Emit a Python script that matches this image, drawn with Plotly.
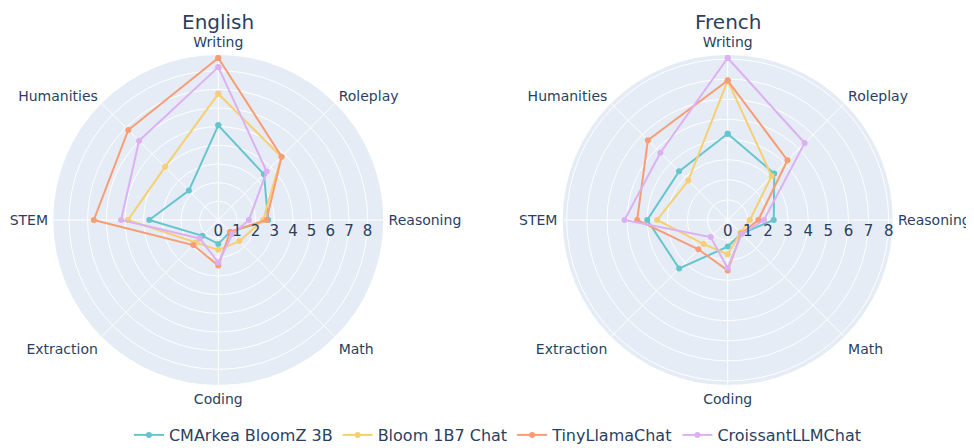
import plotly.graph_objects as go

categories = ["Writing", "Roleplay", "Reasoning", "Math", "Coding", "Extraction", "STEM", "Humanities"]
models = ["CMArkea BloomZ 3B", "Bloom 1B7 Chat", "TinyLlamaChat", "CroissantLLMChat"]
colors = ["rgb(102,197,204)", "rgb(246,207,113)", "rgb(248,156,116)", "rgb(220,176,242)"]

english_cmarkea = [5.07, 3.46, 2.67, 0.9, 1.28, 1.2, 3.7, 2.23]
english_bloom = [6.76, 4.78, 2.4, 1.6, 1.6, 1.7, 4.84, 4.03]
english_tinyllama = [8.68, 4.8, 2.58, 0.9, 2.44, 1.9, 6.67, 6.82]
english_croissant = [8.19, 3.67, 1.64, 1.07, 2.28, 1.4, 5.21, 6.0]

french_cmarkea = [4.29, 3.27, 2.29, 0.95, 1.32, 3.41, 4.0, 3.42]
french_bloom = [6.93, 3.09, 1.1, 0.9, 1.7, 1.69, 3.51, 2.77]
french_tinyllama = [6.93, 4.2, 1.52, 0.95, 2.51, 2.06, 4.5, 5.61]
french_croissant = [8.05, 5.41, 1.8, 0.98, 2.39, 1.2, 5.13, 4.73]

english = [english_cmarkea, english_bloom, english_tinyllama, english_croissant]
french = [french_cmarkea, french_bloom, french_tinyllama, french_croissant]

fig = go.Figure()
for i, name in enumerate(models):
    for data, sub, show in ((english, "polar", True), (french, "polar2", False)):
        vals = data[i]
        fig.add_trace(go.Scatterpolar(
            r=vals + [vals[0]],
            theta=categories + [categories[0]],
            mode="lines+markers",
            name=name,
            legendgroup=name,
            showlegend=show,
            line=dict(color=colors[i], width=2),
            marker=dict(color=colors[i], size=6),
            subplot=sub,
        ))

font = dict(family="DejaVu Sans, Verdana, sans-serif", color="#2a3f5f")

W = 974.0
CX1 = 210.3 / W
CX2 = 719.7 / W

def polar_layout(cx, rmax):
    return dict(
        domain=dict(x=[cx - 0.175, cx + 0.175], y=[0, 1]),
        bgcolor="#E5ECF6",
        angularaxis=dict(rotation=90, direction="clockwise", gridcolor="white",
                         linecolor="white", showline=False, ticks="outside",
                         ticklen=2, tickcolor="rgba(0,0,0,0)",
                         tickfont=dict(size=14)),
        radialaxis=dict(range=[0, rmax], angle=0, dtick=1, gridcolor="white",
                        linecolor="white", showline=False, ticks="",
                        tickfont=dict(size=15)),
    )

fig.update_layout(
    width=974, height=448,
    font=font,
    paper_bgcolor="white",
    margin=dict(l=0, r=0, t=47, b=71, autoexpand=False),
    polar=polar_layout(CX1, 8.84),
    polar2=polar_layout(CX2, 8.2),
    showlegend=True,
    legend=dict(orientation="h", x=0.503, xanchor="center", y=-0.1515, yanchor="middle",
                font=dict(size=16)),
    annotations=[
        dict(text="English", x=CX1, y=1.1424, xref="paper", yref="paper",
             showarrow=False, font=dict(size=20), xanchor="center", yanchor="top"),
        dict(text="French", x=CX2, y=1.1424, xref="paper", yref="paper",
             showarrow=False, font=dict(size=20), xanchor="center", yanchor="top"),
    ],
)

fig.write_html("out.html")
